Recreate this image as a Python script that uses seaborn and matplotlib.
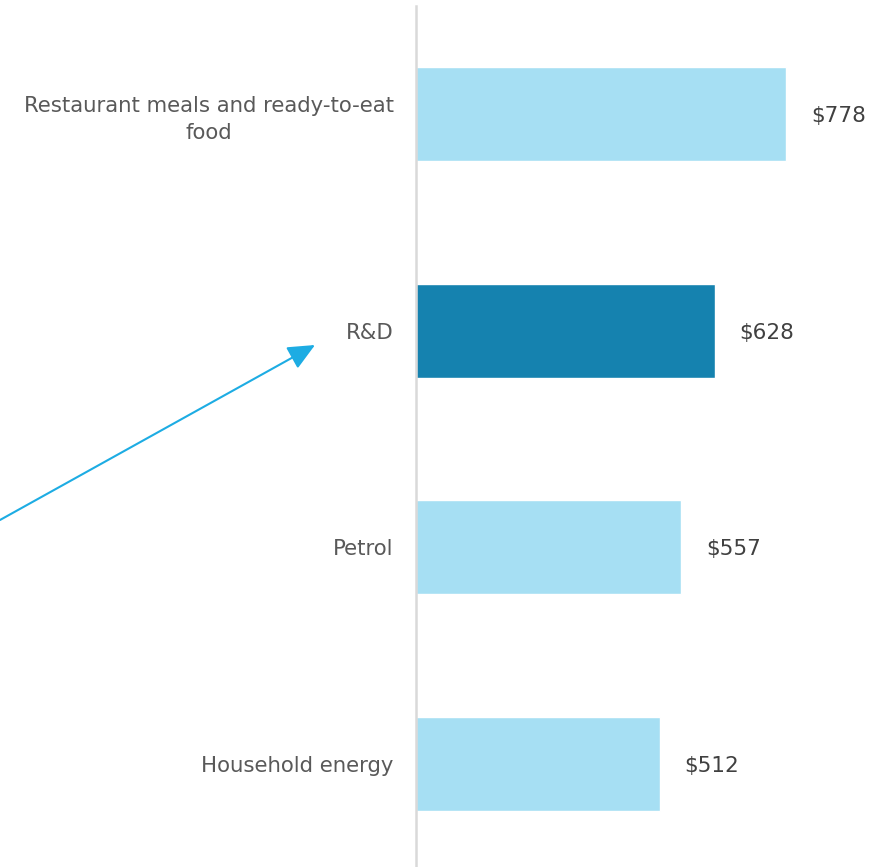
import matplotlib
matplotlib.use("Agg")
import matplotlib.pyplot as plt
import seaborn as sns
import pandas as pd

categories = ["Restaurant meals and ready-to-eat\nfood", "R&D", "Petrol", "Household energy"]
values = [778, 628, 557, 512]
value_labels = ["$778", "$628", "$557", "$512"]
highlight = [False, True, False, False]

LIGHT = "#A6DFF3"
DARK = "#1582AF"
TEXT = "#595959"

sns.set_theme(style="white")
plt.rcParams['font.family'] = ['DejaVu Sans']

df = pd.DataFrame({"cat": categories, "val": values,
                   "grp": ["hi" if h else "lo" for h in highlight]})

fig = plt.figure(figsize=(8.87, 8.67), dpi=100)
ax = fig.add_axes([416/887, 0, 1 - 416/887, 1 - 6/867])

sns.barplot(data=df, y="cat", x="val", hue="grp", palette={"hi": DARK, "lo": LIGHT},
            orient="h", width=0.434, dodge=False, legend=False, ax=ax, saturation=1)

ax.set_xlim(0, 990.3)
ax.set_ylim(3.475, -0.498)
ax.set_xlabel("")
ax.set_ylabel("")
ax.set_xticks([])
for s in ["top", "right", "bottom"]:
    ax.spines[s].set_visible(False)
ax.spines["left"].set_color("#D9D9D9")
ax.spines["left"].set_linewidth(1.8)
ax.tick_params(axis="y", length=0, pad=16, labelsize=15.3, labelcolor=TEXT)
for lbl in ax.get_yticklabels():
    lbl.set_multialignment("center")
    lbl.set_linespacing(1.45)

for i, (v, t) in enumerate(zip(values, value_labels)):
    ax.annotate(t, xy=(v, i), xytext=(18, -1.5), textcoords="offset points",
                ha="left", va="center", fontsize=15.5, color="#404040")

fig.patches.append(matplotlib.patches.FancyArrowPatch(
    (0.0, 1 - 520/867), (315/887, 1 - 345/867), transform=fig.transFigure,
    arrowstyle="-|>,head_length=1.1,head_width=0.5", mutation_scale=15,
    color="#1DACE3", linewidth=1.5, shrinkA=0, shrinkB=0))

fig.savefig("out.png", dpi=100)
